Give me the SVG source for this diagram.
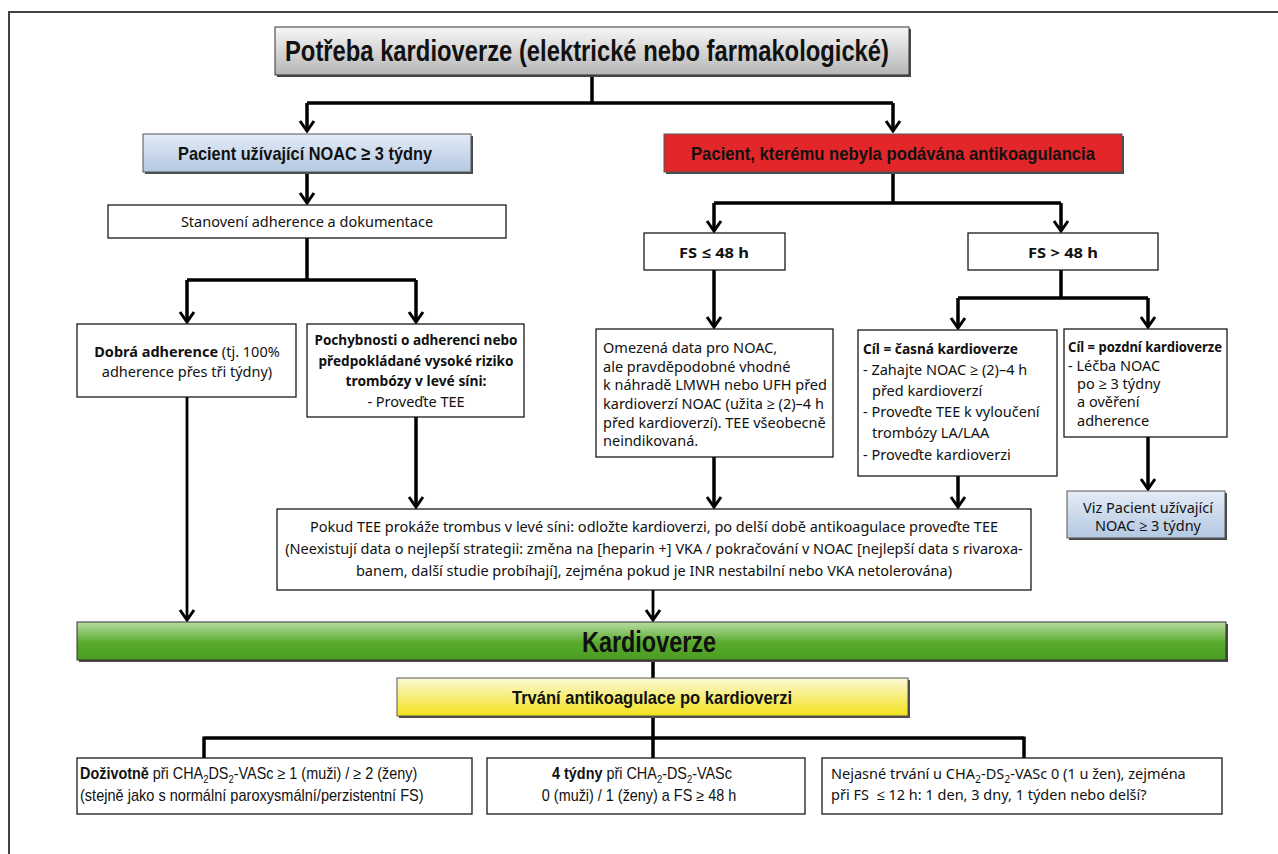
<svg xmlns="http://www.w3.org/2000/svg" width="1278" height="854" viewBox="0 0 1278 854">
  <style>
    .box { fill: #ffffff; stroke: #1a1a1a; stroke-width: 1.3; }
    .shadow { fill: #4a4a4a; }
    .cond { font-family: "Liberation Sans", Arial, sans-serif; font-weight: bold; fill: #111; }
    .condr { font-family: "Liberation Sans", Arial, sans-serif; fill: #111; }
    .body { font-family: "Noto Sans", "Open Sans", sans-serif; font-size: 14.5px; fill: #111; }
    .b { font-weight: bold; }
    .wire { fill: none; stroke: #000; stroke-width: 3.5; }
    .wire-arrow { fill: none; stroke: #000; stroke-width: 3.5; marker-end: url(#chev); }
    .wire-thin { fill: none; stroke: #000; stroke-width: 2.8; marker-end: url(#chev); }
  </style>
  <defs>
    <marker id="chev" viewBox="-12 -9 14 18" refX="0" refY="0" markerWidth="14" markerHeight="18" markerUnits="userSpaceOnUse" orient="auto">
      <path d="M-10,-7 L0,0 L-10,7" fill="none" stroke="#000" stroke-width="3"/>
    </marker>
    <linearGradient id="gGray" x1="0" y1="0" x2="0" y2="1">
      <stop offset="0" stop-color="#f7f7f7"/>
      <stop offset="1" stop-color="#b5b5b5"/>
    </linearGradient>
    <linearGradient id="gBlue" x1="0" y1="0" x2="0" y2="1">
      <stop offset="0" stop-color="#e4ecf6"/>
      <stop offset="1" stop-color="#b3c8e2"/>
    </linearGradient>
    <linearGradient id="gGreen" x1="0" y1="0" x2="0" y2="1">
      <stop offset="0" stop-color="#b9dca3"/>
      <stop offset="0.55" stop-color="#58ab2c"/>
      <stop offset="1" stop-color="#4b9c22"/>
    </linearGradient>
    <linearGradient id="gYellow" x1="0" y1="0" x2="0" y2="1">
      <stop offset="0" stop-color="#fbf9d6"/>
      <stop offset="1" stop-color="#f3e21b"/>
    </linearGradient>
  </defs>

  <rect width="1278" height="854" fill="#ffffff"/>
  <!-- outer frame (top and left edges visible) -->
  <path d="M9,854 L9,12 L1278,12" fill="none" stroke="#444" stroke-width="2"/>

  <!-- connectors -->
  <g id="connectors">
    <path class="wire" d="M592,75 V103 M307,103 H893"/>
    <path class="wire-arrow" d="M307,103 V131"/>
    <path class="wire-arrow" d="M893,103 V131"/>
    <path class="wire-arrow" d="M307,172 V203"/>
    <path class="wire" d="M307,238 V280 M187,280 H416"/>
    <path class="wire-arrow" d="M187,280 V322"/>
    <path class="wire-arrow" d="M416,280 V322"/>
    <path class="wire" d="M893,172 V203 M714,203 H1061"/>
    <path class="wire-arrow" d="M714,203 V231"/>
    <path class="wire-arrow" d="M1061,203 V231"/>
    <path class="wire-arrow" d="M714,270 V327"/>
    <path class="wire" d="M1061,270 V298 M958,298 H1148"/>
    <path class="wire-arrow" d="M958,298 V328"/>
    <path class="wire-arrow" d="M1148,298 V327"/>
    <path class="wire-arrow" d="M1148,437 V489"/>
    <path class="wire-arrow" d="M416,417 V507"/>
    <path class="wire-arrow" d="M714,457 V507"/>
    <path class="wire-arrow" d="M958,476 V507"/>
    <path class="wire-thin" d="M187,397 V620"/>
    <path class="wire-thin" d="M653,590 V620"/>
    <path class="wire" d="M653,660 V678 M653,716 V758 M204,738 H1024 M204,736.5 V758 M1024,736.5 V758"/>
  </g>

  <!-- top: need for cardioversion -->
  <g id="n-title">
    <rect class="shadow" x="277" y="29" width="634" height="48"/>
    <rect x="275" y="27" width="634" height="48" fill="url(#gGray)" stroke="#333" stroke-width="1"/>
    <text class="cond" x="587" y="61" font-size="29" text-anchor="middle" textLength="604" lengthAdjust="spacingAndGlyphs">Potřeba kardioverze (elektrické nebo farmakologické)</text>
  </g>

  <g id="n-noac">
    <rect class="shadow" x="145" y="136" width="328" height="38"/>
    <rect x="143" y="134" width="328" height="38" fill="url(#gBlue)" stroke="#555" stroke-width="1"/>
    <text class="cond" x="305" y="159.5" font-size="19" text-anchor="middle" textLength="254" lengthAdjust="spacingAndGlyphs">Pacient užívající NOAC ≥ 3 týdny</text>
  </g>

  <g id="n-none">
    <rect class="shadow" x="666" y="136" width="458" height="38"/>
    <rect x="664" y="134" width="458" height="38" fill="#e3262a" stroke="#555" stroke-width="1"/>
    <text class="cond" x="893" y="159.5" font-size="19" text-anchor="middle" textLength="404" lengthAdjust="spacingAndGlyphs">Pacient, kterému nebyla podávána antikoagulancia</text>
  </g>

  <g id="n-adherence">
    <rect class="box" x="108" y="205" width="398" height="33"/>
    <text class="body" x="307" y="227" font-size="14" text-anchor="middle">Stanovení adherence a dokumentace</text>
  </g>

  <g id="n-good">
    <rect class="box" x="77" y="324" width="219" height="73"/>
    <text class="body" x="187" y="357" text-anchor="middle"><tspan class="b">Dobrá adherence</tspan> (tj. 100%</text>
    <text class="body" x="187" y="377" text-anchor="middle">adherence přes tři týdny)</text>
  </g>

  <g id="n-doubt">
    <rect class="box" x="307" y="324" width="217" height="93"/>
    <text class="body b" x="416" y="345" text-anchor="middle" textLength="203" lengthAdjust="spacingAndGlyphs">Pochybnosti o adherenci nebo</text>
    <text class="body b" x="416" y="366" text-anchor="middle" textLength="195" lengthAdjust="spacingAndGlyphs">předpokládané vysoké riziko</text>
    <text class="body b" x="416" y="386" text-anchor="middle" textLength="141" lengthAdjust="spacingAndGlyphs">trombózy v levé síni:</text>
    <text class="body" x="416" y="407" text-anchor="middle">- Proveďte TEE</text>
  </g>

  <g id="n-fs-short">
    <rect class="box" x="644" y="233" width="141" height="37"/>
    <text class="body b" x="714" y="258" font-size="19" text-anchor="middle" textLength="70" lengthAdjust="spacingAndGlyphs">FS ≤ 48 h</text>
  </g>

  <g id="n-fs-long">
    <rect class="box" x="968" y="233" width="190" height="37"/>
    <text class="body b" x="1063" y="258" font-size="19" text-anchor="middle" textLength="70" lengthAdjust="spacingAndGlyphs">FS &gt; 48 h</text>
  </g>

  <g id="n-limited">
    <rect class="box" x="596" y="329" width="237" height="128"/>
    <text class="body" x="603" y="353">Omezená data pro NOAC,</text>
    <text class="body" x="603" y="372">ale pravděpodobné vhodné</text>
    <text class="body" x="603" y="390">k náhradě LMWH nebo UFH před</text>
    <text class="body" x="603" y="409">kardioverzí NOAC (užita ≥ (2)–4 h</text>
    <text class="body" x="603" y="428">před kardioverzí). TEE všeobecně</text>
    <text class="body" x="603" y="446">neindikovaná.</text>
  </g>

  <g id="n-early">
    <rect class="box" x="858" y="330" width="199" height="146"/>
    <text class="body b" x="863" y="354" textLength="155" lengthAdjust="spacingAndGlyphs">Cíl = časná kardioverze</text>
    <text class="body" x="863" y="375">- Zahajte NOAC ≥ (2)–4 h</text>
    <text class="body" x="872" y="396">před kardioverzí</text>
    <text class="body" x="863" y="417">- Proveďte TEE k vyloučení</text>
    <text class="body" x="872" y="438">trombózy LA/LAA</text>
    <text class="body" x="863" y="460">- Proveďte kardioverzi</text>
  </g>

  <g id="n-late">
    <rect class="box" x="1064" y="329" width="163" height="108"/>
    <text class="body b" x="1068" y="352" textLength="154" lengthAdjust="spacingAndGlyphs">Cíl = pozdní kardioverze</text>
    <text class="body" x="1068" y="371">- Léčba NOAC</text>
    <text class="body" x="1077" y="389">po ≥ 3 týdny</text>
    <text class="body" x="1077" y="407">a ověření</text>
    <text class="body" x="1077" y="426">adherence</text>
  </g>

  <g id="n-see">
    <rect class="shadow" x="1069" y="493" width="158" height="47"/>
    <rect x="1067" y="491" width="158" height="47" fill="url(#gBlue)" stroke="#555" stroke-width="1"/>
    <text class="body" x="1148" y="513" font-size="15.5" text-anchor="middle">Viz Pacient užívající</text>
    <text class="body" x="1148" y="531" font-size="15.5" text-anchor="middle">NOAC ≥ 3 týdny</text>
  </g>

  <g id="n-thrombus">
    <rect class="box" x="277" y="509" width="754" height="81"/>
    <text class="body" x="654" y="532" font-size="14" text-anchor="middle">Pokud TEE prokáže trombus v levé síni: odložte kardioverzi, po delší době antikoagulace proveďte TEE</text>
    <text class="body" x="654" y="554" font-size="14" text-anchor="middle">(Neexistují data o nejlepší strategii: změna na [heparin +] VKA / pokračování v NOAC [nejlepší data s rivaroxa-</text>
    <text class="body" x="654" y="576" font-size="14" text-anchor="middle">banem, další studie probíhají], zejména pokud je INR nestabilní nebo VKA netolerována)</text>
  </g>

  <g id="n-cardioversion">
    <rect class="shadow" x="79" y="624" width="1149" height="38"/>
    <rect x="77" y="622" width="1149" height="38" fill="url(#gGreen)" stroke="#333" stroke-width="1"/>
    <text class="cond" x="649" y="651.5" font-size="29" text-anchor="middle" textLength="134" lengthAdjust="spacingAndGlyphs">Kardioverze</text>
  </g>

  <g id="n-duration">
    <rect class="shadow" x="399" y="680" width="511" height="38"/>
    <rect x="397" y="678" width="511" height="38" fill="url(#gYellow)" stroke="#555" stroke-width="1"/>
    <text class="cond" x="652" y="704" font-size="19" text-anchor="middle" textLength="280" lengthAdjust="spacingAndGlyphs">Trvání antikoagulace po kardioverzi</text>
  </g>

  <g id="n-lifelong">
    <rect class="box" x="77" y="758" width="395" height="56"/>
    <g transform="translate(80,779) scale(0.9,1)">
      <text class="condr" x="0" y="0" font-size="16"><tspan font-weight="bold">Doživotně</tspan> při CHA<tspan font-size="10.5" dy="4">2</tspan><tspan dy="-4">DS</tspan><tspan font-size="10.5" dy="4">2</tspan><tspan dy="-4">-VASc ≥ 1 (muži) / ≥ 2 (ženy)</tspan></text>
    </g>
    <g transform="translate(80,801) scale(0.91,1)">
      <text class="condr" x="0" y="0" font-size="16">(stejně jako s normální paroxysmální/perzistentní FS)</text>
    </g>
  </g>

  <g id="n-four-weeks">
    <rect class="box" x="487" y="758" width="318" height="56"/>
    <g transform="translate(642,779) scale(0.9,1)">
      <text class="condr" x="0" y="0" font-size="16" text-anchor="middle"><tspan font-weight="bold">4 týdny</tspan> při CHA<tspan font-size="10.5" dy="4">2</tspan><tspan dy="-4">-DS</tspan><tspan font-size="10.5" dy="4">2</tspan><tspan dy="-4">-VASc</tspan></text>
    </g>
    <g transform="translate(639,801) scale(0.9,1)">
      <text class="condr" x="0" y="0" font-size="16" text-anchor="middle">0 (muži) / 1 (ženy) a FS ≥ 48 h</text>
    </g>
  </g>

  <g id="n-unclear">
    <rect class="box" x="822" y="758" width="400" height="56"/>
    <text class="body" x="831" y="779" font-size="15.4">Nejasné trvání u CHA<tspan font-size="10.5" dy="4">2</tspan><tspan dy="-4">-DS</tspan><tspan font-size="10.5" dy="4">2</tspan><tspan dy="-4">-VASc 0 (1 u žen), zejména</tspan></text>
    <text class="body" x="831" y="800" font-size="15.4">při FS&#160; ≤ 12 h: 1 den, 3 dny, 1 týden nebo delší?</text>
  </g>
</svg>
